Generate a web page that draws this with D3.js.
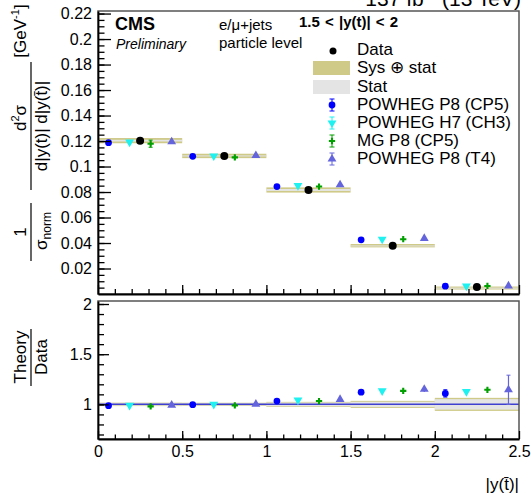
<!DOCTYPE html>
<html>
<head>
<meta charset="utf-8">
<script src="https://cdn.jsdelivr.net/npm/d3@7"></script>
<style>
body { margin: 0; background: #fff; }
text { font-family: "Liberation Sans", Arial, sans-serif; fill: #000; }
</style>
</head>
<body>
<svg id="chart"></svg>
<script>
// bins in |y(tbar)|
var binEdges = [0, 0.5, 1, 1.5, 2, 2.5];
var dataValues = [0.1203, 0.1083, 0.0816, 0.0379, 0.0055];
// relative uncertainties
var relTotal = [0.017, 0.016, 0.025, 0.035, 0.065];
var relStat = [0.012, 0.011, 0.019, 0.026, 0.052];

var powhegCP5 = [0.1187, 0.1080, 0.0843, 0.0425, 0.0061];
var powhegCP5Err = [0.0004, 0.0004, 0.0003, 0.0003, 0.0002];
var powhegH7 = [0.1191, 0.1083, 0.0851, 0.0430, 0.0062];
var powhegH7Err = [0.0004, 0.0004, 0.0003, 0.0003, 0.0001];
var mgP8 = [0.1179, 0.1072, 0.0843, 0.0430, 0.0063];
var mgP8Err = [0.0028, 0.0018, 0.0005, 0.0005, 0.0001];
var powhegT4 = [0.1194, 0.1086, 0.0857, 0.0436, 0.0063];
var powhegT4Err = [0.0008, 0.0006, 0.0005, 0.0010, 0.0008];

var models = [
    {name: "POWHEG P8 (CP5)", values: powhegCP5, errors: powhegCP5Err, color: "#0000ff", symbol: d3.symbolCircle, size: 36, rot: 0, off: 0.125},
    {name: "POWHEG H7 (CH3)", values: powhegH7, errors: powhegH7Err, color: "#1ff0f0", symbol: d3.symbolTriangle, size: 34, rot: 180, off: 0.375},
    {name: "MG P8 (CP5)", values: mgP8, errors: mgP8Err, color: "#00a000", symbol: d3.symbolCross, size: 22, rot: 0, off: 0.625},
    {name: "POWHEG P8 (T4)", values: powhegT4, errors: powhegT4Err, color: "#6464dc", symbol: d3.symbolTriangle, size: 34, rot: 0, off: 0.875}
];

var W = 531, H = 495;
var svg = d3.select("#chart").attr("width", W).attr("height", H);

var x = d3.scaleLinear().domain([0, 2.5]).range([98, 519]);
var yTop = d3.scaleLinear().domain([0, 0.222]).range([294, 11]);
var yRat = d3.scaleLinear().domain([0.655, 2.03]).range([439, 301]);

var bins = dataValues.map(function (v, i) {
    return {lo: binEdges[i], hi: binEdges[i + 1], v: v, tot: relTotal[i], stat: relStat[i]};
});

var khaki = "#cfca88", grey = "#e4e4e4";

// ---------- top panel ----------
var topPanel = svg.append("g");
topPanel.selectAll(".sys").data(bins).enter().append("rect")
    .attr("x", d => x(d.lo)).attr("width", d => x(d.hi) - x(d.lo))
    .attr("y", d => yTop(d.v * (1 + d.tot)))
    .attr("height", d => Math.max(3, yTop(d.v * (1 - d.tot)) - yTop(d.v * (1 + d.tot))))
    .style("fill", khaki);
topPanel.selectAll(".stat").data(bins).enter().append("rect")
    .attr("x", d => x(d.lo)).attr("width", d => x(d.hi) - x(d.lo))
    .attr("y", d => yTop(d.v * (1 + d.stat)) + 1)
    .attr("height", d => Math.max(1, yTop(d.v * (1 - d.stat)) - yTop(d.v * (1 + d.stat)) - 2))
    .style("fill", grey);

function drawModels(g, yScale, ratio) {
    models.forEach(function (m) {
        var pts = m.values.map(function (v, i) {
            var d = ratio ? dataValues[i] : 1;
            return {x: binEdges[i] + (binEdges[i + 1] - binEdges[i]) * m.off, y: v / d, e: m.errors[i] / d};
        });
        var gm = g.append("g");
        gm.selectAll("line.err").data(pts).enter().append("line")
            .attr("x1", d => x(d.x)).attr("x2", d => x(d.x))
            .attr("y1", d => yScale(d.y - d.e)).attr("y2", d => yScale(d.y + d.e))
            .style("stroke", m.color).style("stroke-width", 1.2);
        [-1, 1].forEach(function (s) {
            gm.selectAll("line.cap" + s).data(pts.filter(d => Math.abs(yScale(d.y + d.e) - yScale(d.y)) > 3))
                .enter().append("line")
                .attr("x1", d => x(d.x) - 2).attr("x2", d => x(d.x) + 2)
                .attr("y1", d => yScale(d.y + s * d.e)).attr("y2", d => yScale(d.y + s * d.e))
                .style("stroke", m.color).style("stroke-width", 1);
        });
        gm.selectAll("path").data(pts).enter().append("path")
            .attr("d", d3.symbol().type(m.symbol).size(m.size))
            .attr("transform", d => `translate(${x(d.x)} ${yScale(d.y)}) rotate(${m.rot})`)
            .style("fill", m.color);
    });
}
drawModels(topPanel, yTop, false);

topPanel.selectAll(".data").data(bins).enter().append("circle")
    .attr("cx", d => x((d.lo + d.hi) / 2)).attr("cy", d => yTop(d.v))
    .attr("r", 4).style("fill", "#000");

// frame + axes top
svg.append("rect").attr("x", 98).attr("y", 11).attr("width", 421).attr("height", 283)
    .style("fill", "none").style("stroke", "#555").style("stroke-width", 1.5);

function axisStyle(g) {
    g.selectAll("path.domain").style("stroke", "#000").style("stroke-width", 1.8);
    g.selectAll("line").style("stroke", "#000").style("stroke-width", 1.3);
    g.selectAll("text").style("font-size", "16px").style("font-family", "Liberation Sans, Arial, sans-serif");
}

var yTopMajor = d3.range(1, 12).map(i => i * 0.02);
var gyTop = svg.append("g").attr("transform", "translate(98,0)")
    .call(d3.axisLeft(yTop).tickValues(yTopMajor).tickSize(-13).tickSizeOuter(0).tickPadding(6)
        .tickFormat(d => String(+d.toFixed(2))));
svg.append("g").attr("transform", "translate(98,0)")
    .call(d3.axisLeft(yTop).tickValues(d3.range(1, 45).map(i => i * 0.005)).tickSize(-6.5).tickSizeOuter(0).tickFormat(""))
    .call(g => g.select(".domain").remove()).call(axisStyle);
axisStyle(gyTop);

var xMinor = d3.range(1, 25).map(i => i * 0.1);
var xMajor = [0, 0.5, 1, 1.5, 2, 2.5];
svg.append("g").attr("transform", "translate(0,294)")
    .call(d3.axisBottom(x).tickValues(xMajor).tickSize(-9).tickSizeOuter(0).tickFormat(""))
    .call(axisStyle);
svg.append("g").attr("transform", "translate(0,294)")
    .call(d3.axisBottom(x).tickValues(xMinor).tickSize(-5).tickSizeOuter(0).tickFormat(""))
    .call(g => g.select(".domain").remove()).call(axisStyle);

// ---------- ratio panel ----------
var ratPanel = svg.append("g");
ratPanel.selectAll(".sys").data(bins).enter().append("rect")
    .attr("x", d => x(d.lo)).attr("width", d => x(d.hi) - x(d.lo))
    .attr("y", d => yRat(1 + d.tot)).attr("height", d => yRat(1 - d.tot) - yRat(1 + d.tot))
    .style("fill", khaki);
ratPanel.selectAll(".stat").data(bins).enter().append("rect")
    .attr("x", d => x(d.lo)).attr("width", d => x(d.hi) - x(d.lo))
    .attr("y", d => yRat(1 + d.stat)).attr("height", d => yRat(1 - d.stat) - yRat(1 + d.stat))
    .style("fill", grey);
ratPanel.append("line").attr("x1", x(0)).attr("x2", x(2.5)).attr("y1", yRat(1)).attr("y2", yRat(1))
    .style("stroke", "#4040d0").style("stroke-width", 1.5);
drawModels(ratPanel, yRat, true);

svg.append("rect").attr("x", 98).attr("y", 301).attr("width", 421).attr("height", 138)
    .style("fill", "none").style("stroke", "#555").style("stroke-width", 1.5);

var gyRat = svg.append("g").attr("transform", "translate(98,0)")
    .call(d3.axisLeft(yRat).tickValues([1, 1.5, 2]).tickSize(-11).tickSizeOuter(0).tickPadding(6)
        .tickFormat(d => String(d)));
axisStyle(gyRat);
svg.append("g").attr("transform", "translate(98,0)")
    .call(d3.axisLeft(yRat).tickValues(d3.range(7, 21).map(i => i * 0.1)).tickSize(-6).tickSizeOuter(0).tickFormat(""))
    .call(g => g.select(".domain").remove()).call(axisStyle);

var gxRat = svg.append("g").attr("transform", "translate(0,439)")
    .call(d3.axisBottom(x).tickValues(xMajor).tickSize(-8).tickSizeOuter(0).tickPadding(7)
        .tickFormat(d => String(d)));
axisStyle(gxRat);
svg.append("g").attr("transform", "translate(0,439)")
    .call(d3.axisBottom(x).tickValues(xMinor).tickSize(-4.5).tickSizeOuter(0).tickFormat(""))
    .call(g => g.select(".domain").remove()).call(axisStyle);

// ---------- texts ----------
// lumi label sits partly above the page top, as in the original
var lumi = svg.append("text").attr("x", 521).attr("y", 6).attr("text-anchor", "end").style("font-size", "21px");
lumi.append("tspan").text("137 fb");
lumi.append("tspan").attr("dy", -8).style("font-size", "14px").text("-1");
lumi.append("tspan").attr("dy", 8).text(" (13 TeV)");

svg.append("text").attr("x", 115).attr("y", 30).style("font-size", "18px").style("font-weight", "bold").text("CMS");
svg.append("text").attr("x", 116).attr("y", 49).style("font-size", "14px").style("font-style", "italic").text("Preliminary");
svg.append("text").attr("x", 219).attr("y", 30).style("font-size", "15px").text("e/\u03bc+jets");
svg.append("text").attr("x", 219).attr("y", 48).style("font-size", "15px").text("particle level");
svg.append("text").attr("x", 299).attr("y", 27).style("font-size", "15px").style("font-weight", "bold")
    .style("word-spacing", "1px").text("1.5 < |y(t)| < 2");

// legend
var lx = 357, rowY = [49, 67, 86, 104, 122, 140, 158];
var legendNames = ["Data", "Sys \u2295 stat", "Stat"].concat(models.map(m => m.name));
svg.selectAll(".leg").data(legendNames).enter().append("text")
    .attr("x", lx).attr("y", (d, i) => rowY[i] + 6).style("font-size", "17px").text(d => d);
svg.append("circle").attr("cx", 333).attr("cy", rowY[0] + 2).attr("r", 3.5).style("fill", "#000");
svg.append("rect").attr("x", 313).attr("y", rowY[1] - 6).attr("width", 37).attr("height", 14).style("fill", khaki);
svg.append("rect").attr("x", 313).attr("y", rowY[2] - 6).attr("width", 37).attr("height", 14).style("fill", grey);
models.forEach(function (m, i) {
    var cy = rowY[i + 3] + 1;
    var g = svg.append("g");
    g.append("line").attr("x1", 332).attr("x2", 332).attr("y1", cy - 6).attr("y2", cy + 6).style("stroke", m.color);
    [-6, 6].forEach(function (s) {
        g.append("line").attr("x1", 329.5).attr("x2", 334.5).attr("y1", cy + s).attr("y2", cy + s).style("stroke", m.color);
    });
    g.append("path").attr("d", d3.symbol().type(m.symbol).size(m.size))
        .attr("transform", `translate(332 ${cy}) rotate(${m.rot})`).style("fill", m.color);
});

// y title, top panel (rotated)
var yt = svg.append("g").attr("transform", "rotate(-90)").style("font-size", "17px");
yt.append("text").attr("x", -232).attr("y", 26).attr("text-anchor", "middle").text("1");
yt.append("line").attr("x1", -261).attr("x2", -203).attr("y1", 31).attr("y2", 31).style("stroke", "#000").style("stroke-width", 1.2);
var sn = yt.append("text").attr("x", -231).attr("y", 47).attr("text-anchor", "middle");
sn.append("tspan").text("\u03c3");
sn.append("tspan").attr("dy", 4).style("font-size", "12px").text("norm");
var d2 = yt.append("text").attr("x", -118).attr("y", 26).attr("text-anchor", "middle");
d2.append("tspan").text("d");
d2.append("tspan").attr("dy", -7).style("font-size", "11px").text("2");
d2.append("tspan").attr("dy", 7).text("\u03c3");
yt.append("line").attr("x1", -190).attr("x2", -62).attr("y1", 31).attr("y2", 31).style("stroke", "#000").style("stroke-width", 1.2);
yt.append("text").attr("x", -126).attr("y", 47).attr("text-anchor", "middle").text("d|y(t)| d|y(t\u0304)|");
var gev = yt.append("text").attr("x", -31).attr("y", 26).attr("text-anchor", "middle");
gev.append("tspan").text("[GeV");
gev.append("tspan").attr("dy", -7).style("font-size", "11px").text("-1");
gev.append("tspan").attr("dy", 7).text("]");

// y title, ratio panel
yt.append("text").attr("x", -357).attr("y", 26).attr("text-anchor", "middle").text("Theory");
yt.append("line").attr("x1", -386).attr("x2", -329).attr("y1", 31).attr("y2", 31).style("stroke", "#000").style("stroke-width", 1.2);
yt.append("text").attr("x", -357).attr("y", 47).attr("text-anchor", "middle").text("Data");

// x title
svg.append("text").attr("x", 519).attr("y", 490).attr("text-anchor", "end").style("font-size", "17px").text("|y(t\u0304)|");
</script>
</body>
</html>
